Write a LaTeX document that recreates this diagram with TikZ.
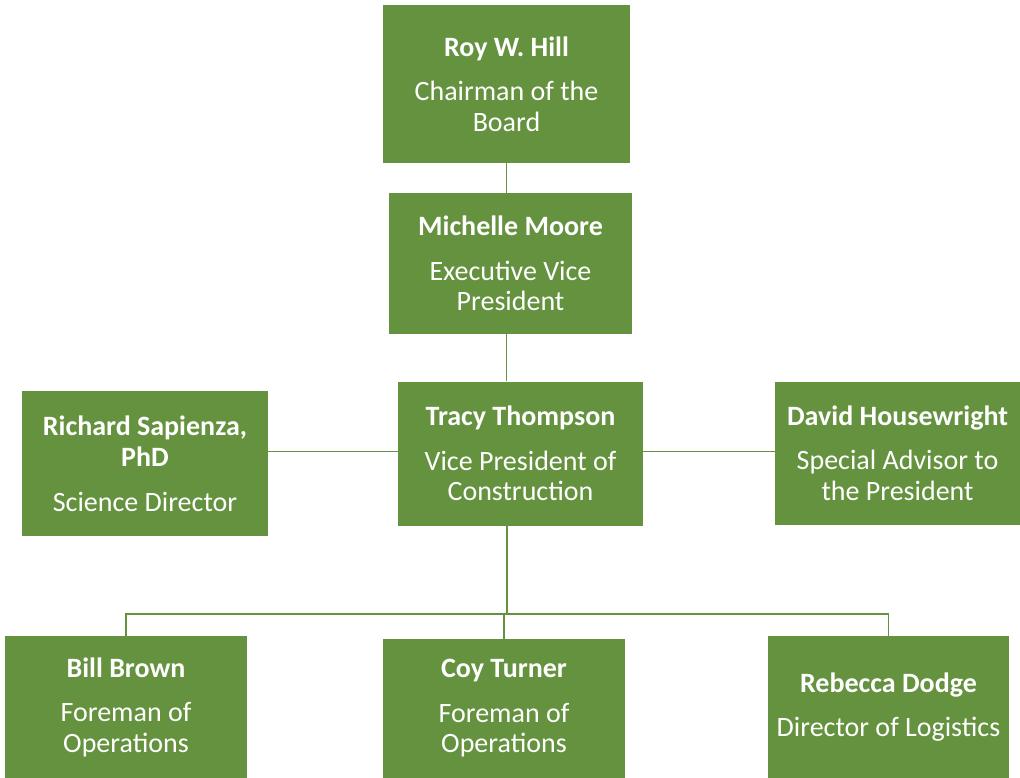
\documentclass[tikz,border=0pt]{standalone}
\usepackage{fontspec}
\setmainfont{Carlito}
\definecolor{boxgreen}{RGB}{100,146,62}

\begin{document}
\begin{tikzpicture}[x=1pt,y=-1pt,
    person/.style={rectangle, fill=boxgreen, text=white, align=center, inner sep=0pt,
        font=\fontsize{28}{30.5}\selectfont},
    link/.style={draw=boxgreen, line width=1.8pt}]
    \useasboundingbox (0,0) rectangle (1020,778);
    \node[person, minimum width=247pt, minimum height=158pt] (roy) at (506.5,84)
        {\textbf{Roy W. Hill}\\[14pt]Chairman of the\\Board};
    \node[person, minimum width=243pt, minimum height=141pt] (michelle) at (510.5,263.5)
        {\textbf{Michelle Moore}\\[14pt]Executive Vice\\President};
    \node[person, minimum width=245pt, minimum height=144pt] (tracy) at (520.5,453.5)
        {\textbf{Tracy Thompson}\\[14pt]Vice President of\\Construction};
    \node[person, minimum width=246pt, minimum height=145pt] (richard) at (145,463.5)
        {\textbf{Richard Sapienza,}\\[1pt]\textbf{PhD}\\[14pt]Science Director};
    \node[person, minimum width=245pt, minimum height=143pt] (david) at (897.5,453)
        {\textbf{David Housewright}\\[14pt]Special Advisor to\\the President};
    \node[person, minimum width=242pt, minimum height=142pt] (bill) at (126,707)
        {\textbf{Bill Brown}\\[14pt]Foreman of\\Operations};
    \node[person, minimum width=242pt, minimum height=139pt] (coy) at (504,708.5)
        {\textbf{Coy Turner}\\[14pt]Foreman of\\Operations};
    \node[person, minimum width=241pt, minimum height=142pt] (rebecca) at (888.5,707)
        {\textbf{Rebecca Dodge}\\[14pt]Director of Logistics};
    \coordinate (bus) at (507,614);
    \coordinate (mid) at (507,451.5);
    \draw[link] (roy.south) -- (roy.south |- michelle.north);
    \draw[link] (roy.south |- michelle.south) -- (roy.south |- tracy.north);
    \draw[link] (richard.east |- mid) -- (tracy.west |- mid);
    \draw[link] (tracy.east |- mid) -- (david.west |- mid);
    \draw[link] (bus |- tracy.south) -- (bus);
    \draw[link] (bill.north) -- (bus -| bill.north) -- (bus -| rebecca.north) -- (rebecca.north);
    \draw[link] (bus -| coy.north) -- (coy.north);
\end{tikzpicture}
\end{document}
